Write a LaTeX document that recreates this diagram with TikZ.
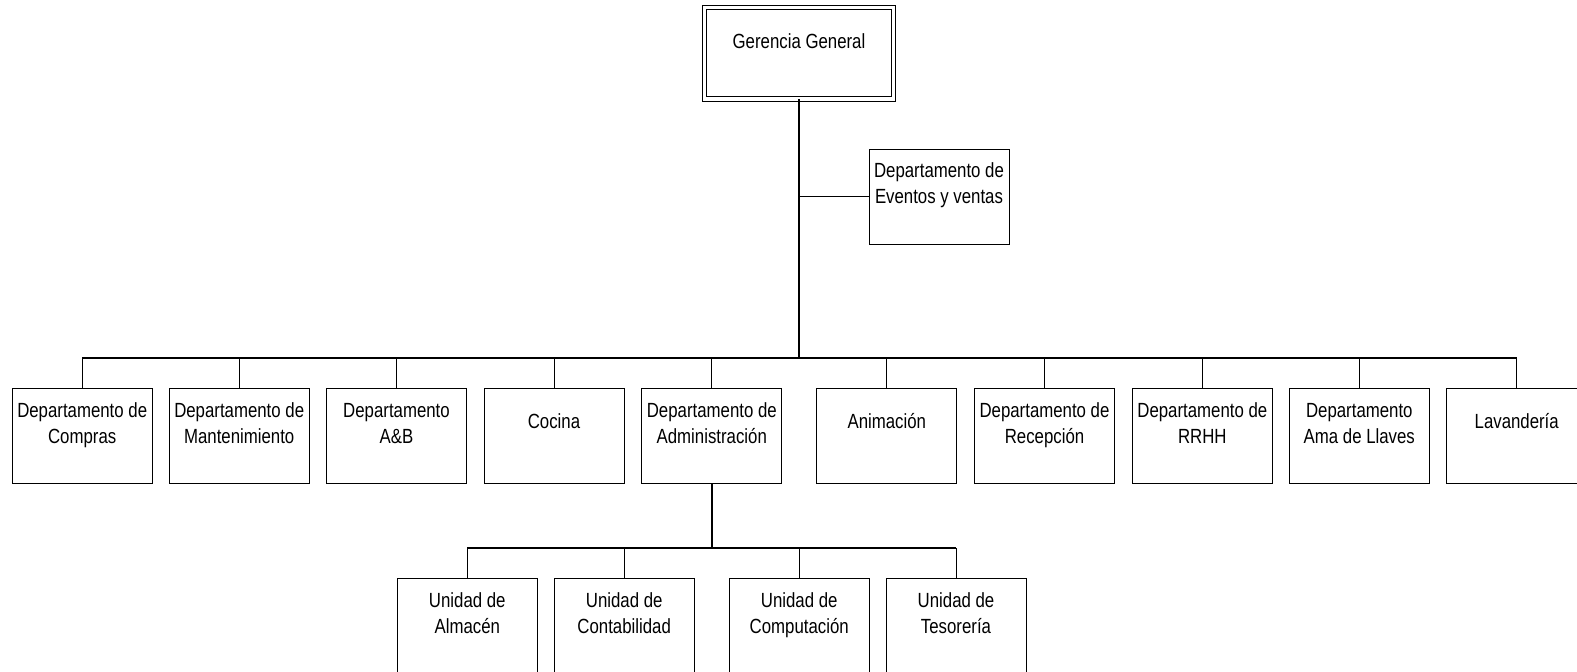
\documentclass[tikz,border=0pt]{standalone}
\usepackage{fontspec}
\setmainfont{Liberation Sans}[FakeStretch=0.82]
\begin{document}
\begin{tikzpicture}[x=1pt,y=-1pt,
  box/.style={draw=black,line width=0.9pt,minimum width=140pt,minimum height=95.3pt,inner sep=0pt,outer sep=0pt},
  txt/.style={align=center,inner sep=0pt,font=\fontsize{20.5}{26}\selectfont},
  thin/.style={line width=1pt},
  thick/.style={line width=2pt}]
\useasboundingbox (0,0) rectangle (1577,672);
\clip (0,0) rectangle (1577,672);
% top
\node[draw=black,line width=0.9pt,double,double distance=3.6pt,minimum width=188.8pt,minimum height=91.7pt,inner sep=0pt,outer sep=0pt] (ger) at (799,53.3) {};
\node[txt] (tger) at (799,43) {\strut Gerencia General};
\node[box] (ev) at (939,196.7) {};
\node[txt] (tev) at ([yshift=-36.3pt]ev.north) {\strut Departamento de\\\strut Eventos y ventas};
% row 1
\node[box] (b1) at (82.2,435.7) {};
\node[box] (b2) at (239.2,435.7) {};
\node[box] (b3) at (396.5,435.7) {};
\node[box] (b4) at (554,435.7) {};
\node[box] (b5) at (711.8,435.7) {};
\node[box] (b6) at (886.8,435.7) {};
\node[box] (b7) at (1044.5,435.7) {};
\node[box] (b8) at (1202.3,435.7) {};
\node[box] (b9) at (1359.3,435.7) {};
\node[box] (b10) at (1516.7,435.7) {};
\node[txt] (t1) at ([yshift=-37.5pt]b1.north) {\strut Departamento de\\\strut Compras};
\node[txt] (t2) at ([yshift=-37.5pt]b2.north) {\strut Departamento de\\\strut Mantenimiento};
\node[txt] (t3) at ([yshift=-37.5pt]b3.north) {\strut Departamento\\\strut A\&B};
\node[txt] (t4) at ([yshift=-35.2pt]b4.north) {\strut Cocina};
\node[txt] (t5) at ([yshift=-37.5pt]b5.north) {\strut Departamento de\\\strut Administración};
\node[txt] (t6) at ([yshift=-35.2pt]b6.north) {\strut Animación};
\node[txt] (t7) at ([yshift=-37.5pt]b7.north) {\strut Departamento de\\\strut Recepción};
\node[txt] (t8) at ([yshift=-37.5pt]b8.north) {\strut Departamento de\\\strut RRHH};
\node[txt] (t9) at ([yshift=-37.5pt]b9.north) {\strut Departamento\\\strut Ama de Llaves};
\node[txt] (t10) at ([yshift=-35.2pt]b10.north) {\strut Lavandería};
% row 2
\node[box] (u1) at (467.3,625.8) {};
\node[box] (u2) at (624.2,625.8) {};
\node[box] (u3) at (799.2,625.8) {};
\node[box] (u4) at (956,625.8) {};
\node[txt] (tu1) at ([yshift=-37pt]u1.north) {\strut Unidad de\\\strut Almacén};
\node[txt] (tu2) at ([yshift=-37pt]u2.north) {\strut Unidad de\\\strut Contabilidad};
\node[txt] (tu3) at ([yshift=-37pt]u3.north) {\strut Unidad de\\\strut Computación};
\node[txt] (tu4) at ([yshift=-37pt]u4.north) {\strut Unidad de\\\strut Tesorería};
% connectors
\coordinate (bus) at (799,357.7);
\coordinate (sub) at (711.8,548);
\draw[thick] (ger.south) -- (bus);
\draw[thin] (ger.south |- ev.west) -- (ev.west);
\draw[line width=1.8pt] (b1.north |- bus) -- (b10.north |- bus);
\foreach \n in {b1,b2,b3,b4,b5,b6,b7,b8,b9,b10}{
  \draw[thin] (\n.north |- bus) -- (\n.north);
}
\draw[thick] (b5.south) -- (sub);
\draw[line width=1.8pt] (u1.north |- sub) -- (u4.north |- sub);
\foreach \n in {u1,u2,u3,u4}{
  \draw[thin] (\n.north |- sub) -- (\n.north);
}
\end{tikzpicture}
\end{document}
